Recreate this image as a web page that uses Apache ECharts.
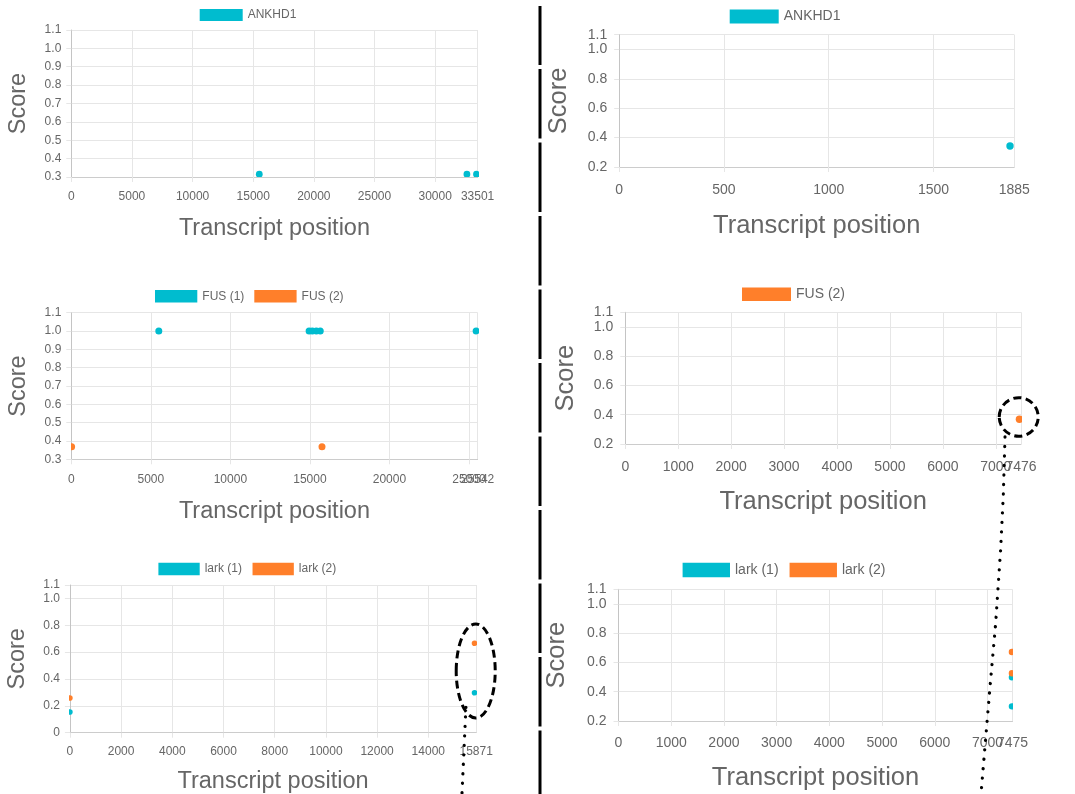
<!DOCTYPE html>
<html><head><meta charset="utf-8">
<script src="https://cdn.jsdelivr.net/npm/echarts@6/dist/echarts.min.js"></script>
<style>html,body{margin:0;padding:0;background:#fff}#c{width:1075px;height:794px}</style>
</head><body><div id="c"></div>
<script>
// ---------------- DATA ----------------
const CYAN = '#00bccf';
const ORANGE = '#ff7f2a';

// Panel 1 (top-left): ANKHD1
const ankhd1L_x = [15500, 32620, 33410];
const ankhd1L_y = [0.315, 0.315, 0.315];
// Panel 2 (top-right): ANKHD1
const ankhd1R_x = [1865];
const ankhd1R_y = [0.343];
// Panel 3 (middle-left): FUS (1), FUS (2)
const fus1L_x = [5500, 14950, 15150, 15400, 15650, 25450];
const fus1L_y = [1.0, 1.0, 1.0, 1.0, 1.0, 1.0];
const fus2L_x = [20, 15760];
const fus2L_y = [0.369, 0.369];
// Panel 4 (middle-right): FUS (2)
const fus2R_x = [7446];
const fus2R_y = [0.369];
// Panel 5 (bottom-left): lark (1), lark (2)
const lark1L_x = [0, 15805];
const lark1L_y = [0.154, 0.298];
const lark2L_x = [0, 15805];
const lark2L_y = [0.258, 0.666];
// Panel 6 (bottom-right): lark (1), lark (2)
const lark1R_x = [7464, 7464];
const lark1R_y = [0.499, 0.30];
const lark2R_x = [7464, 7464];
const lark2R_y = [0.672, 0.526];

// axis ranges / ticks
const xMaxes = [33501, 1885, 25542, 7476, 15871, 7475];
const xIntervals = [5000, 500, 5000, 1000, 2000, 1000];
const yMins = [0.3, 0.2, 0.3, 0.2, 0, 0.2];
const yMaxes = [1.1, 1.1, 1.1, 1.1, 1.1, 1.1];
const yIntervals = [0.1, 0.2, 0.1, 0.2, 0.2, 0.2];
const xTitle = 'Transcript position';
const yTitle = 'Score';

// ---------------- LAYOUT ----------------
const FONT = "'Liberation Sans', Arial, Helvetica, sans-serif";
const TXT = '#666';
const GRIDC = '#e6e6e6';
const layout = [
  {grid:[71.3,30,406.3,147],     fs:12, tfs:23.5, xg:39.7, yg:40.3, xm:14,   ym:10, lg:{left:199.7,top:9,w:43,h:12,gap:10}, r:3.4},
  {grid:[619.2,34.7,395,132.3],  fs:14, tfs:25.5, xg:45.5, yg:47.4, xm:16,   ym:12, lg:{left:729.7,top:9.5,w:49,h:14,gap:11}, r:3.7},
  {grid:[71.3,312.7,406.3,146.6],fs:12, tfs:23.5, xg:40,   yg:40.3, xm:14,   ym:10, lg:{left:155,top:290,w:42.3,h:12.5,gap:10}, r:3.5},
  {grid:[625.3,312.3,395.7,131.7],fs:14,tfs:25.5, xg:44.5, yg:46.7, xm:16,   ym:12, lg:{left:742,top:287.3,w:49,h:13.5,gap:11}, r:3.7},
  {grid:[69.9,585,406.3,147.7],  fs:12, tfs:23.5, xg:37.3, yg:40.7, xm:13,   ym:10, lg:{left:158.4,top:562.7,w:41.3,h:12.5,gap:10.5}, r:2.8},
  {grid:[618.5,589.3,394,131.7], fs:14, tfs:25.5, xg:44.2, yg:48.5, xm:15.5, ym:12, lg:{left:682.6,top:562.7,w:47.4,h:14.5,gap:11}, r:3.2}
];

const panelSeries = [
  [{name:'ANKHD1', color:CYAN, x:ankhd1L_x, y:ankhd1L_y}],
  [{name:'ANKHD1', color:CYAN, x:ankhd1R_x, y:ankhd1R_y}],
  [{name:'FUS (1)', color:CYAN, x:fus1L_x, y:fus1L_y},{name:'FUS (2)', color:ORANGE, x:fus2L_x, y:fus2L_y}],
  [{name:'FUS (2)', color:ORANGE, x:fus2R_x, y:fus2R_y}],
  [{name:'lark (1)', color:CYAN, x:lark1L_x, y:lark1L_y},{name:'lark (2)', color:ORANGE, x:lark2L_x, y:lark2L_y}],
  [{name:'lark (1)', color:CYAN, x:lark1R_x, y:lark1R_y},{name:'lark (2)', color:ORANGE, x:lark2R_x, y:lark2R_y}]
];

const grids = [], xAxes = [], yAxes = [], legends = [], series = [];
layout.forEach((L, i) => {
  grids.push({left:L.grid[0], top:L.grid[1], width:L.grid[2], height:L.grid[3], outerBoundsMode:'none', containLabel:false});
  // main x axis (all tick labels except the max one, so overlapping neighbours stay visible)
  xAxes.push({
    type:'value', gridIndex:i, position:'bottom', min:0, max:xMaxes[i], interval:xIntervals[i],
    name:xTitle, nameLocation:'middle', nameGap:L.xg, nameMoveOverlap:false,
    nameTextStyle:{fontSize:L.tfs, color:TXT, fontFamily:FONT},
    axisLine:{show:true, onZero:false, lineStyle:{color:'#cccccc', width:1}},
    axisTick:{show:true, length:5, lineStyle:{color:GRIDC}},
    axisLabel:{show:true, fontSize:L.fs, color:TXT, fontFamily:FONT, margin:L.xm, showMinLabel:true, showMaxLabel:false, formatter:v=>String(v)},
    splitLine:{show:true, lineStyle:{color:GRIDC, width:1}}
  });
  yAxes.push({
    type:'value', gridIndex:i, min:yMins[i], max:yMaxes[i], interval:yIntervals[i],
    name:yTitle, nameLocation:'middle', nameRotate:90, nameGap:L.yg, nameMoveOverlap:false,
    nameTextStyle:{fontSize:L.tfs, color:TXT, fontFamily:FONT},
    axisLine:{show:true, onZero:false, lineStyle:{color:'#c4c4c4', width:1}},
    axisTick:{show:true, length:5, lineStyle:{color:GRIDC}},
    axisLabel:{show:true, fontSize:L.fs, color:TXT, fontFamily:FONT, margin:L.ym, showMinLabel:true, showMaxLabel:true,
      formatter:v=> (Math.abs(v) < 1e-9 ? '0' : (+v).toFixed(1))},
    splitLine:{show:true, lineStyle:{color:GRIDC, width:1}}
  });
  legends.push({
    left:L.lg.left, top:L.lg.top, padding:0, orient:'horizontal',
    itemWidth:L.lg.w, itemHeight:L.lg.h, itemGap:L.lg.gap, icon:'rect', selectedMode:false,
    data: panelSeries[i].map(s=>s.name),
    textStyle:{fontSize:L.fs, color:TXT, fontFamily:FONT, lineHeight:L.lg.h}
  });
  panelSeries[i].forEach(s => {
    const r = L.r, col = s.color;
    series.push({
      type:'custom', name:s.name, xAxisIndex:i, yAxisIndex:i, clip:true,
      itemStyle:{color:col},
      encode:{x:0, y:1},
      data: s.x.map((v,k)=>[v, s.y[k]]),
      renderItem:(params, api) => {
        const p = api.coord([api.value(0), api.value(1)]);
        return {type:'circle', shape:{cx:p[0], cy:p[1], r:r}, style:{fill:col}};
      }
    });
  });
});
// companion x axes: only the max label (drawn even if it overlaps its neighbour)
layout.forEach((L, i) => {
  const mx = xMaxes[i];
  xAxes.push({
    type:'value', gridIndex:i, position:'bottom', offset:0, min:0, max:mx, interval:xIntervals[i],
    axisLine:{show:false}, axisTick:{show:false}, splitLine:{show:false},
    axisLabel:{show:true, fontSize:L.fs, color:TXT, fontFamily:FONT, margin:L.xm, showMinLabel:false, showMaxLabel:true,
      formatter:v=> (v === mx ? String(v) : '')}
  });
});

const chart = echarts.init(document.getElementById('c'), null, {renderer:'canvas'});
chart.setOption({
  animation:false, backgroundColor:'#fff',
  textStyle:{fontFamily:FONT},
  grid:grids, xAxis:xAxes, yAxis:yAxes, legend:legends, series:series
});

// ---------------- ANNOTATIONS ----------------
const g = [];
// central divider with small breaks
const segTop = 6, gapStart = 67, gapStep = 73.5, gapSize = 4;
let yPrev = segTop;
for (let k = 0; k <= 10; k++) {
  const gy = gapStart + k * gapStep;
  const yEnd = Math.min(gy - gapSize/2, 794);
  if (yEnd > yPrev) g.push({type:'rect', shape:{x:538.5, y:yPrev, width:3, height:yEnd - yPrev}, style:{fill:'#000'}, z:100});
  yPrev = gy + gapSize/2;
  if (yPrev >= 794) break;
}
// circle around FUS (2) point in panel 4
const pc = chart.convertToPixel({gridIndex:3}, [fus2R_x[0], fus2R_y[0]]);
const c4 = [pc[0] - 0.7, pc[1] - 2.3];
g.push({type:'ellipse', shape:{cx:c4[0], cy:c4[1], rx:19.5, ry:19.3},
  style:{fill:null, stroke:'#000', lineWidth:3, lineDash:[8,4.5]}, z:101});
// ellipse around lark points in panel 5
const pa = chart.convertToPixel({gridIndex:4}, [lark2L_x[1], lark2L_y[1]]);
const pb = chart.convertToPixel({gridIndex:4}, [lark1L_x[1], lark1L_y[1]]);
const c5 = [(pa[0]+pb[0])/2 + 1.2, (pa[1]+pb[1])/2 + 3];
g.push({type:'ellipse', shape:{cx:c5[0], cy:c5[1], rx:19.5, ry:47},
  style:{fill:null, stroke:'#000', lineWidth:3, lineDash:[8,4.5]}, z:101});
// dotted connector lines
const dotStyle = {fill:null, stroke:'#000', lineWidth:3.2, lineDash:[0.1, 9.4], lineCap:'round'};
g.push({type:'polyline', shape:{points:[[c5[0]-9.8, c5[1]+36.3],[461.7, 800]]}, style:dotStyle, z:102});
g.push({type:'polyline', shape:{points:[[c4[0]-13.7, c4[1]+20],[1003.3,495],[1000.6,550],[995.7,623],[990,687],[980.5,800]]}, style:dotStyle, z:102});
chart.setOption({graphic:g});
</script>
</body></html>
